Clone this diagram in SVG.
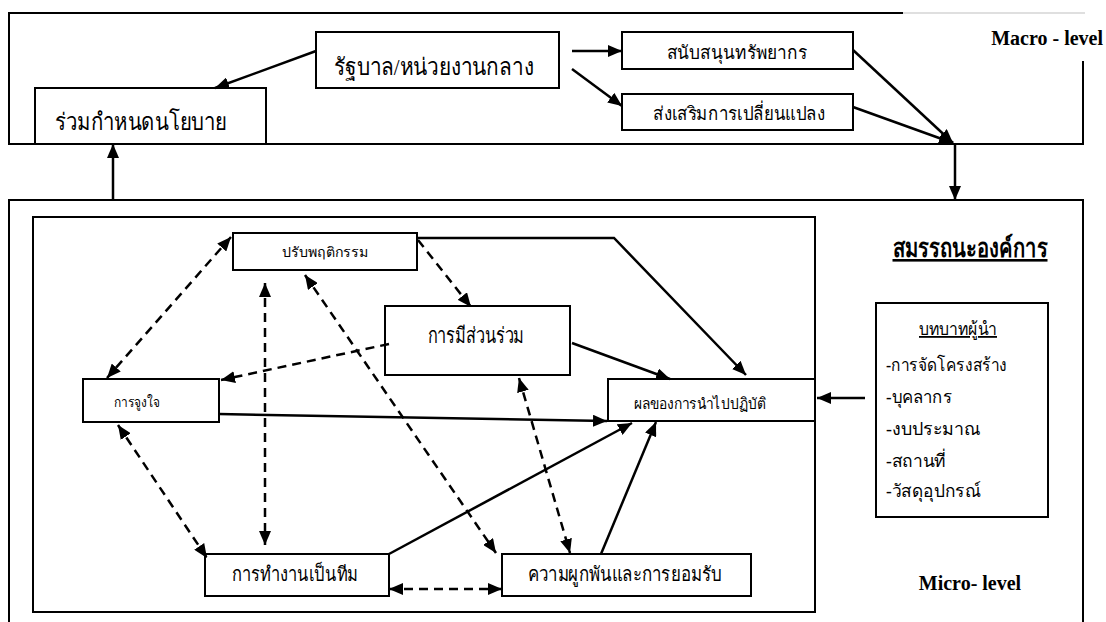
<svg xmlns="http://www.w3.org/2000/svg" width="1106" height="622" viewBox="0 0 1106 622">
<style>
.bx{fill:#fff;stroke:#000;stroke-width:2}
.frame{fill:none;stroke:#000;stroke-width:2}
.c{fill:none;stroke:#000;stroke-width:2.5}
.d{fill:none;stroke:#000;stroke-width:2.5;stroke-dasharray:9 6}
.t{font-family:"Liberation Serif",serif;fill:#000;text-anchor:middle}
.l{font-family:"Liberation Serif",serif;fill:#000;font-size:18px}
.lvl{font-family:"Liberation Serif",serif;font-weight:bold;font-size:20px;fill:#000}
</style>
<defs>
<marker id="ah" viewBox="0 0 14 12" refX="14" refY="6" markerWidth="14" markerHeight="12" orient="auto-start-reverse" markerUnits="userSpaceOnUse"><path d="M0,0 L14,6 L0,12 z" fill="#000"/></marker>
</defs>
<rect width="1106" height="622" fill="#fff"/>
<g id="macro-frame">
<path class="frame" d="M903,13 H9 V144 H1083 V61"/>
<path d="M903,13 H1085" stroke="#d4d4d4" stroke-width="1.5" fill="none"/>
<text class="lvl" x="1103" y="45" text-anchor="end">Macro - level</text>
</g>
<g id="micro-frame">
<rect class="frame" x="9" y="200" width="1074" height="440"/>
<rect class="frame" x="33" y="217" width="782" height="395"/>
<text class="lvl" x="970" y="590" text-anchor="middle">Micro- level</text>
<text class="t" x="970" y="257" font-size="26" font-weight="bold" text-decoration="underline" textLength="155" lengthAdjust="spacingAndGlyphs">สมรรถนะองค์การ</text>
</g>
<g id="n-gov"><rect class="bx" x="316" y="32" width="243" height="56"/><text class="t" x="434" y="75" font-size="24" textLength="200" lengthAdjust="spacingAndGlyphs">รัฐบาล/หน่วยงานกลาง</text></g>
<g id="n-policy"><rect class="bx" x="35" y="88" width="231" height="56"/><text class="t" x="141" y="130" font-size="24" textLength="172" lengthAdjust="spacingAndGlyphs">ร่วมกำหนดนโยบาย</text></g>
<g id="n-support"><rect class="bx" x="622" y="32" width="231" height="37"/><text class="t" x="737" y="59" font-size="19" textLength="141" lengthAdjust="spacingAndGlyphs">สนับสนุนทรัพยากร</text></g>
<g id="n-promote"><rect class="bx" x="622" y="94" width="231" height="36"/><text class="t" x="739" y="120" font-size="19" textLength="172" lengthAdjust="spacingAndGlyphs">ส่งเสริมการเปลี่ยนแปลง</text></g>
<g id="n-behavior"><rect class="bx" x="233" y="233" width="184" height="37"/><text class="t" x="325" y="257" font-size="14" textLength="86" lengthAdjust="spacingAndGlyphs">ปรับพฤติกรรม</text></g>
<g id="n-participation"><rect class="bx" x="385" y="306" width="185" height="69"/><text class="t" x="476" y="343" font-size="22" textLength="97" lengthAdjust="spacingAndGlyphs">การมีส่วนร่วม</text></g>
<g id="n-motivation"><rect class="bx" x="83" y="379" width="136" height="43"/><text class="t" x="137" y="407" font-size="14" textLength="46" lengthAdjust="spacingAndGlyphs">การจูงใจ</text></g>
<g id="n-result"><rect class="bx" x="608" y="379" width="207" height="42"/><text class="t" x="700" y="409" font-size="15" textLength="133" lengthAdjust="spacingAndGlyphs">ผลของการนำไปปฏิบัติ</text></g>
<g id="n-teamwork"><rect class="bx" x="205" y="554" width="184" height="42"/><text class="t" x="295" y="581" font-size="20" textLength="126" lengthAdjust="spacingAndGlyphs">การทำงานเป็นทีม</text></g>
<g id="n-commitment"><rect class="bx" x="502" y="554" width="249" height="42"/><text class="t" x="625" y="581" font-size="20" textLength="194" lengthAdjust="spacingAndGlyphs">ความผูกพันและการยอมรับ</text></g>
<g id="n-leader"><rect class="bx" x="876" y="303" width="172" height="214"/>
<text class="t" x="958" y="335" font-size="18" text-decoration="underline" textLength="78" lengthAdjust="spacingAndGlyphs">บทบาทผู้นำ</text>
<text class="l" x="886" y="371" textLength="121" lengthAdjust="spacingAndGlyphs">-การจัดโครงสร้าง</text>
<text class="l" x="886" y="403" textLength="66" lengthAdjust="spacingAndGlyphs">-บุคลากร</text>
<text class="l" x="886" y="435" textLength="95" lengthAdjust="spacingAndGlyphs">-งบประมาณ</text>
<text class="l" x="886" y="467" textLength="60" lengthAdjust="spacingAndGlyphs">-สถานที่</text>
<text class="l" x="886" y="497" textLength="95" lengthAdjust="spacingAndGlyphs">-วัสดุอุปกรณ์</text>
</g>
<g id="connectors">
<path class="c" d="M316,51 L215,88" marker-end="url(#ah)"/>
<path class="c" d="M572,51 L622,51" marker-end="url(#ah)"/>
<path class="c" d="M572,69 L622,106" marker-end="url(#ah)"/>
<path class="c" d="M853,50 L953,143" marker-end="url(#ah)"/>
<path class="c" d="M853,107 L953,143" marker-end="url(#ah)"/>
<path class="c" d="M955,144 L955,200" marker-end="url(#ah)"/>
<path class="c" d="M113,200 L113,144" marker-end="url(#ah)"/>
<path class="c" d="M417,238 L614,238 L746,375" marker-end="url(#ah)"/>
<path class="c" d="M572,343 L670,379" marker-end="url(#ah)"/>
<path class="c" d="M219,414 L607,421" marker-end="url(#ah)"/>
<path class="c" d="M389,554 L632,423" marker-end="url(#ah)"/>
<path class="c" d="M601,554 L656,422" marker-end="url(#ah)"/>
<path class="c" d="M865,398 L817,398" marker-end="url(#ah)"/>
<path class="d" d="M418,240 L471,307" marker-end="url(#ah)"/>
<path class="d" d="M231,237 L107,378" marker-start="url(#ah)" marker-end="url(#ah)"/>
<path class="d" d="M265,283 L265,545" marker-start="url(#ah)" marker-end="url(#ah)"/>
<path class="d" d="M305,275 L496,553" marker-start="url(#ah)" marker-end="url(#ah)"/>
<path class="d" d="M389,344 L221,380" marker-end="url(#ah)"/>
<path class="d" d="M519,378 L570,553" marker-start="url(#ah)" marker-end="url(#ah)"/>
<path class="d" d="M118,425 L207,558" marker-start="url(#ah)" marker-end="url(#ah)"/>
<path class="d" d="M389,589 L502,589" marker-start="url(#ah)" marker-end="url(#ah)"/>
</g>
</svg>
